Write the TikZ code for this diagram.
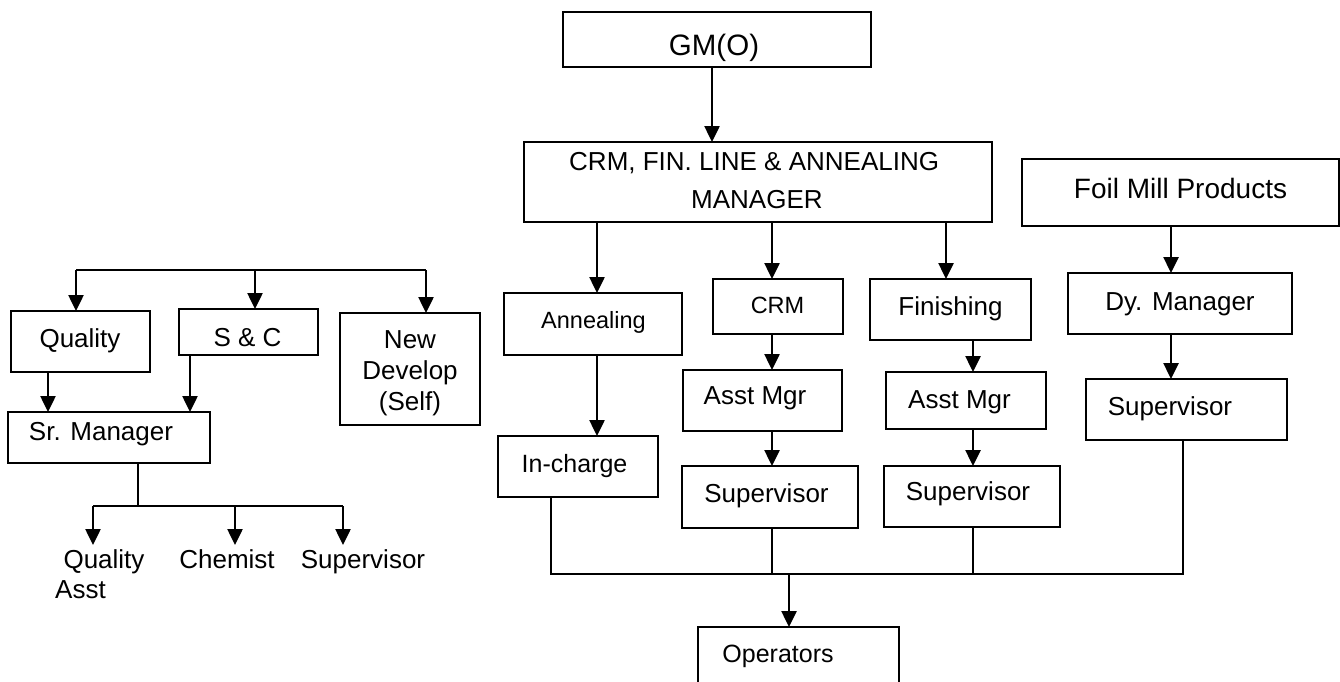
\documentclass[tikz,border=0pt]{standalone}
\usepackage{fontspec}
\setmainfont{Liberation Sans}
\usetikzlibrary{arrows.meta}
\begin{document}
\begin{tikzpicture}[x=1pt,y=-1pt,
  box/.style={draw, line width=2pt, inner sep=0pt, outer sep=0pt},
  lbl/.style={inner sep=0pt, anchor=base, font=\fontsize{26}{31}\selectfont},
  small/.style={font=\fontsize{23.5}{28}\selectfont},
  mid/.style={font=\fontsize{25}{30}\selectfont},
  arr/.style={line width=2.5pt, -{Triangle[width=15pt,length=16pt]}},
  wire/.style={line width=2pt}]
\useasboundingbox (0,0) rectangle (1340,681);
\clip (0,0) rectangle (1340,681);

% ---------------- quality branch (left) ----------------
\node[box, minimum width=139, minimum height=61]  (qual)   at (80.5,341.5) {};
\node[box, minimum width=139, minimum height=46]  (sc)     at (248.5,332) {};
\node[box, minimum width=140, minimum height=112] (newdev) at (410,369) {};
\node[box, minimum width=202, minimum height=51]  (srmgr)  at (109,437.5) {};

\node[lbl] (qual-t)  at (80,347)    {Quality};
\node[lbl] (sc-t)    at (247.5,346) {S \& C};
% multi-line text: the base anchor sits on the last line
\node[lbl, align=center] (newdev-t) at (410,410) {New\\Develop\\(Self)};
\node[lbl] (srmgr-t) at (101,440)   {Sr. Manager};

\node[lbl] (qa-t)    at (104,568) {Quality};
\node[lbl, anchor=base west] (qa-t2) at (55,598) {Asst};
\node[lbl] (chem-t)  at (227,568) {Chemist};
\node[lbl] (qsup-t)  at (363,568) {Supervisor};

% bus over the three sections
\coordinate (lbl) at (76,270);
\coordinate (lbm) at (255,270);
\coordinate (lbr) at (426,270);
\draw[wire] (lbl) -- (lbr);
\draw[arr] (lbl) -- (lbl |- qual.north);
\draw[arr] (lbm) -- (lbm |- sc.north);
\draw[arr] (lbr) -- (lbr |- newdev.north);

% into the senior manager
\coordinate (xq) at (48,0);
\coordinate (xs) at (190,0);
\draw[arr] (qual.south -| xq) -- (srmgr.north -| xq);
\draw[arr] (sc.south -| xs) -- (srmgr.north -| xs);

% senior manager to staff
\coordinate (sstem) at (138,506);
\coordinate (sbl) at (93,506);
\coordinate (sbm) at (235,506);
\coordinate (sbr) at (343,506);
\coordinate (qa-in)   at (93,545);
\coordinate (chem-in) at (235,545);
\coordinate (qsup-in) at (343,545);
\draw[wire] (srmgr.south -| sstem) -- (sstem);
\draw[wire] (sbl) -- (sbr);
\draw[arr] (sbl) -- (qa-in);
\draw[arr] (sbm) -- (chem-in);
\draw[arr] (sbr) -- (qsup-in);

% ---------------- operations (right) ----------------
\node[box, minimum width=308, minimum height=55] (gm)  at (717,39.5) {};
\node[box, minimum width=468, minimum height=80] (mgr) at (758,182) {};
\node[lbl, font=\fontsize{29.5}{34}\selectfont] (gm-t) at (714,55) {GM(O)};
\node[lbl, anchor=base west] (mgr-t1) at (569,170) {CRM, FIN. LINE \& ANNEALING};
\node[lbl, anchor=base west] (mgr-t2) at (691,208) {MANAGER};

\node[box, minimum width=178, minimum height=62] (anneal) at (593,324) {};
\node[box, minimum width=130, minimum height=55] (crm)    at (778,306.5) {};
\node[box, minimum width=161, minimum height=61] (finish) at (950.5,309.5) {};
\node[lbl, small] (anneal-t) at (593.5,328) {Annealing};
\node[lbl, small] (crm-t)    at (777.5,313) {CRM};
\node[lbl]        (finish-t) at (950.5,315) {Finishing};

\node[box, minimum width=160, minimum height=61] (incharge) at (577.6,466.5) {};
\node[box, minimum width=159, minimum height=61] (asst1)    at (762.5,400.5) {};
\node[box, minimum width=176, minimum height=62] (sup1)     at (770,497) {};
\node[box, minimum width=160, minimum height=57] (asst2)    at (966,400.5) {};
\node[box, minimum width=176, minimum height=61] (sup2)     at (972,496.5) {};
\node[lbl, mid] (incharge-t) at (574.5,472) {In-charge};
\node[lbl] (asst1-t) at (755,404)   {Asst Mgr};
\node[lbl] (sup1-t)  at (766.5,502) {Supervisor};
\node[lbl] (asst2-t) at (959.5,408) {Asst Mgr};
\node[lbl] (sup2-t)  at (968,500)   {Supervisor};

\node[box, minimum width=317, minimum height=67] (foil) at (1180.5,192.5) {};
\node[box, minimum width=224, minimum height=61] (dy)   at (1180,303.5) {};
\node[box, minimum width=201, minimum height=61] (sup3) at (1186.5,409.5) {};
\node[lbl, font=\fontsize{28}{33}\selectfont] (foil-t) at (1180.5,198) {Foil Mill Products};
\node[lbl] (dy-t)   at (1180,310) {Dy. Manager};
\node[lbl] (sup3-t) at (1170,415) {Supervisor};

\node[box, minimum width=201, minimum height=70] (ops) at (798.5,662) {};
\node[lbl, mid] (ops-t) at (778,662) {Operators};

% vertical columns of the connectors
\coordinate (xgm) at (712,0);
\coordinate (xan) at (597,0);
\coordinate (xcr) at (772,0);
\coordinate (xfi) at (946,0);
\coordinate (xfa) at (973,0);
\coordinate (xfo) at (1171,0);
\coordinate (xic) at (551,0);
\coordinate (xs3) at (1183,0);
\coordinate (xop) at (789,0);
\coordinate (obus) at (0,574);

\draw[arr] (gm.south -| xgm) -- (mgr.north -| xgm);
\draw[arr] (mgr.south -| xan) -- (anneal.north -| xan);
\draw[arr] (mgr.south -| xcr) -- (crm.north -| xcr);
\draw[arr] (mgr.south -| xfi) -- (finish.north -| xfi);
\draw[arr] (anneal.south -| xan) -- (incharge.north -| xan);
\draw[arr] (crm.south -| xcr) -- (asst1.north -| xcr);
\draw[arr] (asst1.south -| xcr) -- (sup1.north -| xcr);
\draw[arr] (finish.south -| xfa) -- (asst2.north -| xfa);
\draw[arr] (asst2.south -| xfa) -- (sup2.north -| xfa);
\draw[arr] (foil.south -| xfo) -- (dy.north -| xfo);
\draw[arr] (dy.south -| xfo) -- (sup3.north -| xfo);

% collecting bus down to the operators
\draw[wire] (incharge.south -| xic) -- (obus -| xic) -- (obus -| xs3) -- (sup3.south -| xs3);
\draw[wire] (sup1.south -| xcr) -- (obus -| xcr);
\draw[wire] (sup2.south -| xfa) -- (obus -| xfa);
\draw[arr] (obus -| xop) -- (ops.north -| xop);
\end{tikzpicture}
\end{document}
